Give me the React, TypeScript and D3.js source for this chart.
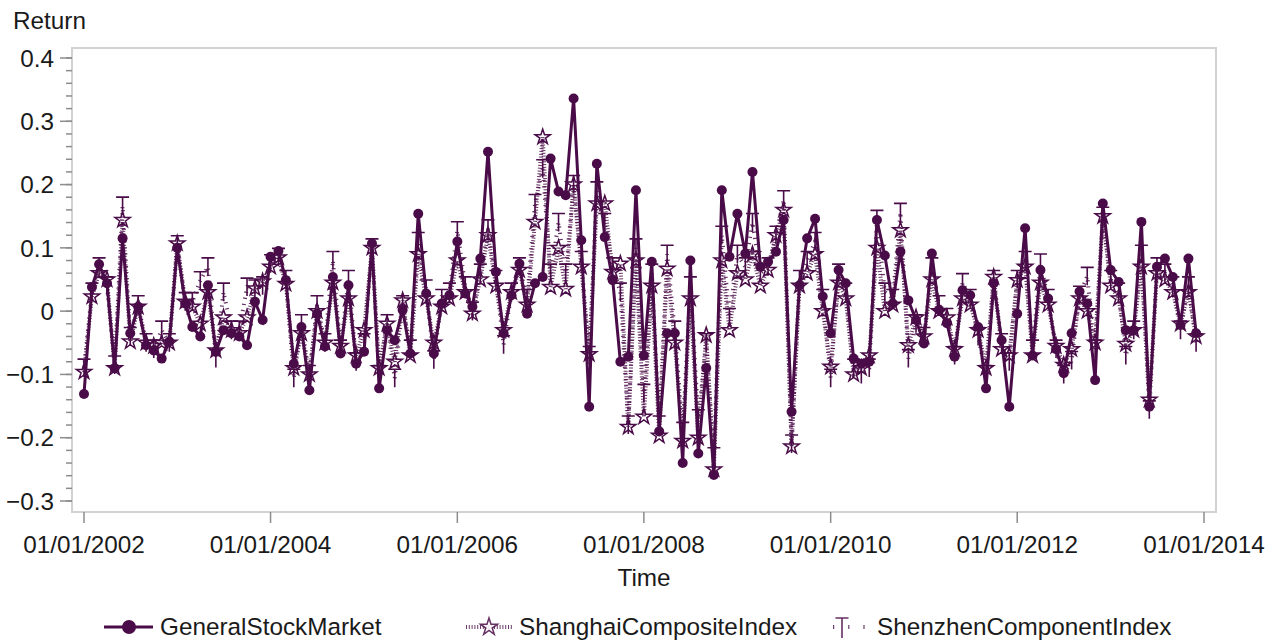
import React from "react";
import * as d3 from "d3";

// monthly returns, Jan 2002 .. Dec 2013
const generalStockMarket = [
  -0.131, 0.038, 0.074, 0.044, -0.09, 0.115, -0.035, 0.007, -0.054, -0.062, -0.075, -0.048,
  0.1, 0.012, -0.025, -0.04, 0.041, -0.064, -0.03, -0.035, -0.04, -0.054, 0.015, -0.014,
  0.086, 0.095, 0.049, -0.083, -0.025, -0.125, -0.004, -0.056, 0.054, -0.067, 0.041, -0.083,
  -0.064, 0.107, -0.122, -0.03, -0.046, 0.002, -0.067, 0.154, 0.028, -0.067, 0.012, 0.025,
  0.11, 0.028, 0.007, 0.083, 0.252, 0.062, -0.035, 0.025, 0.075, -0.004, 0.044, 0.054,
  0.241, 0.189, 0.183, 0.336, 0.112, -0.151, 0.233, 0.117, 0.049, -0.08, -0.072, 0.191,
  -0.07, 0.078, -0.19, -0.035, -0.035, -0.24, 0.08, -0.225, -0.09, -0.259, 0.191, 0.086,
  0.154, 0.091, 0.22, 0.07, 0.078, 0.094, 0.144, -0.159, 0.041, 0.115, 0.146, 0.023,
  -0.035, 0.065, 0.044, -0.075, -0.083, -0.08, 0.144, 0.088, 0.012, 0.094, 0.017, -0.014,
  -0.051, 0.091, 0.002, -0.019, -0.072, 0.033, 0.025, -0.025, -0.122, 0.044, -0.046, -0.151,
  -0.004, 0.131, -0.07, 0.065, 0.02, -0.06, -0.098, -0.035, 0.031, 0.012, -0.109, 0.17,
  0.065, 0.046, -0.03, -0.03, 0.141, -0.151, 0.07, 0.083, 0.054, -0.022, 0.083, -0.035,
];

const shanghaiCompositeIndex = [
  -0.096, 0.023, 0.06, 0.05, -0.09, 0.144, -0.048, 0.007, -0.05, -0.055, -0.05, -0.05,
  0.107, 0.015, 0.007, -0.02, 0.03, -0.062, -0.01, -0.03, -0.035, -0.01, 0.036, 0.047,
  0.07, 0.085, 0.043, -0.09, -0.035, -0.1, 0.0, -0.05, 0.045, -0.055, 0.02, -0.07,
  -0.03, 0.1, -0.09, -0.02, -0.08, 0.017, -0.07, 0.09, 0.02, -0.05, 0.007, 0.02,
  0.08, 0.03, -0.004, 0.05, 0.12, 0.04, -0.03, 0.03, 0.065, 0.01, 0.141, 0.275,
  0.038, 0.1, 0.035, 0.2, 0.07, -0.068, 0.17, 0.17, 0.062, 0.075, -0.183, 0.08,
  -0.167, 0.04, -0.197, 0.067, -0.05, -0.205, 0.02, -0.2, -0.038, -0.25, 0.08, -0.03,
  0.06, 0.05, 0.09, 0.04, 0.065, 0.12, 0.16, -0.214, 0.04, 0.06, 0.09, 0.0,
  -0.088, 0.045, 0.02, -0.1, -0.09, -0.07, 0.1, 0.0, 0.01, 0.128, -0.054, -0.01,
  -0.04, 0.05, 0.0, -0.01, -0.06, 0.02, 0.01, -0.03, -0.09, 0.054, -0.06, -0.07,
  0.049, 0.07, -0.07, 0.045, 0.01, -0.055, -0.085, -0.06, 0.02, 0.0, -0.05, 0.15,
  0.04, 0.02, -0.052, -0.03, 0.07, -0.14, 0.06, 0.05, 0.03, -0.02, 0.03, -0.04,
];

const shenzhenComponentIndex = [
  -0.09, 0.03, 0.07, 0.04, -0.085, 0.166, -0.04, 0.01, -0.05, -0.06, -0.03, -0.05,
  0.105, 0.015, 0.015, 0.048, 0.07, -0.075, 0.03, -0.03, -0.03, 0.038, 0.035, 0.04,
  0.075, 0.085, 0.05, -0.106, -0.02, -0.1, 0.01, -0.05, 0.08, -0.06, 0.05, -0.08,
  -0.05, 0.1, -0.1, -0.02, -0.106, 0.01, -0.06, 0.11, 0.035, -0.077, 0.02, 0.03,
  0.127, 0.04, 0.0, 0.06, 0.13, 0.05, -0.053, 0.03, 0.07, 0.02, 0.17, 0.225,
  0.06, 0.14, 0.06, 0.2, 0.08, -0.07, 0.19, 0.14, 0.07, 0.03, -0.18, 0.1,
  -0.13, 0.06, -0.18, 0.09, -0.03, -0.19, 0.04, -0.17, -0.05, -0.23, 0.12, -0.01,
  0.09, 0.07, 0.14, 0.06, 0.07, 0.12, 0.176, -0.21, 0.05, 0.08, 0.11, 0.02,
  -0.106, 0.06, 0.03, -0.09, -0.1, -0.09, 0.145, 0.03, 0.02, 0.156, -0.075, -0.02,
  -0.04, 0.07, 0.01, -0.01, -0.07, 0.045, 0.02, -0.04, -0.1, 0.05, -0.05, -0.08,
  0.05, 0.08, -0.06, 0.076, 0.02, -0.06, -0.1, -0.078, 0.025, 0.055, -0.06, 0.15,
  0.05, 0.03, -0.07, -0.03, 0.09, -0.156, 0.07, 0.06, 0.04, -0.03, 0.04, -0.05,
];

const seriesNames = ["GeneralStockMarket", "ShanghaiCompositeIndex", "ShenzhenComponentIndex"];
const yTickValues = [-0.3, -0.2, -0.1, 0, 0.1, 0.2, 0.3, 0.4];
const xTickYears = [2002, 2004, 2006, 2008, 2010, 2012, 2014];

const W = 1276;
const H = 641;
const frame = { left: 72, right: 1216, top: 48, bottom: 512 };
const ink = "#4a0c48";
const textColor = "#1a1a1a";
const font = "'Liberation Sans', Arial, sans-serif";
const fs = 24.3;

const months = generalStockMarket.map((_, i) => new Date(2002, i, 1));

export default function App() {
  const x = d3.scaleTime()
    .domain([new Date(2002, 0, 1), new Date(2014, 0, 1)])
    .range([84, 1204]);
  const y = d3.scaleLinear().domain([-0.3, 0.4]).range([501, 58]);

  const line = d3.line<number>()
    .x((_, i) => x(months[i]))
    .y(d => y(d));

  const star = d3.symbol(d3.symbolStar, 72)();
  const legendStar = d3.symbol(d3.symbolStar, 90)();
  const tack = (cx: number, cy: number, w = 13, h = 9) =>
    `M${cx - w / 2},${cy - h}H${cx + w / 2}M${cx},${cy - h}V${cy + h}`;

  const minorTicks = d3.range(0, 36).map(k => -0.3 + k * 0.02);
  const fmt = (d: number) => (Math.abs(d) < 1e-9 ? "0" : d3.format(".1f")(d));
  const ly = 627;

  return (
    <svg width={W} height={H} style={{ position: "absolute", left: 0, top: 0, background: "#fff" }}
      fontFamily={font}>
      <rect x={0} y={0} width={W} height={H} fill="#fff" />
      {/* frame */}
      <rect x={frame.left} y={frame.top} width={frame.right - frame.left} height={frame.bottom - frame.top}
        fill="none" stroke="#d2d2d2" strokeWidth={2} />

      {/* y axis */}
      <text x={13} y={29} fontSize={fs} fill={textColor}>Return</text>
      {minorTicks.map((t, k) => (
        <line key={"m" + k} x1={66} x2={frame.left} y1={y(t)} y2={y(t)} stroke="#8c8c8c" strokeWidth={1.5} />
      ))}
      {yTickValues.map(t => (
        <g key={t}>
          <line x1={60} x2={frame.left} y1={y(t)} y2={y(t)} stroke="#8c8c8c" strokeWidth={1.5} />
          <text x={54} y={y(t)} dy="0.36em" textAnchor="end" fontSize={fs} fill={textColor}>{fmt(t)}</text>
        </g>
      ))}

      {/* x axis */}
      {xTickYears.map(yr => {
        const px = x(new Date(yr, 0, 1));
        return (
          <g key={yr}>
            <line x1={px} x2={px} y1={frame.bottom} y2={frame.bottom + 11} stroke="#8c8c8c" strokeWidth={1.5} />
            <text x={px} y={553} textAnchor="middle" fontSize={fs} fill={textColor}>{`01/01/${yr}`}</text>
          </g>
        );
      })}
      <text x={(frame.left + frame.right) / 2} y={586} textAnchor="middle" fontSize={fs} fill={textColor}>Time</text>

      {/* Shenzhen: dashed line + tack markers */}
      <path d={line(shenzhenComponentIndex) || ""} fill="none" stroke={ink} strokeWidth={4}
        strokeDasharray="1.2,5" opacity={0.85} />
      {shenzhenComponentIndex.map((v, i) => (
        <path key={"z" + i} d={tack(x(months[i]), y(v))} fill="none" stroke={ink} strokeWidth={1.6} />
      ))}

      {/* Shanghai: dotted line + open stars */}
      <path d={line(shanghaiCompositeIndex) || ""} fill="none" stroke={ink} strokeWidth={4}
        strokeDasharray="1,1.8" opacity={0.85} />
      {shanghaiCompositeIndex.map((v, i) => (
        <path key={"s" + i} d={star} transform={`translate(${x(months[i])},${y(v)})`}
          fill="none" stroke={ink} strokeWidth={1.5} />
      ))}

      {/* General: solid line + filled circles */}
      <path d={line(generalStockMarket) || ""} fill="none" stroke={ink} strokeWidth={3} />
      {generalStockMarket.map((v, i) => (
        <circle key={"g" + i} cx={x(months[i])} cy={y(v)} r={5} fill={ink} />
      ))}

      {/* legend */}
      <line x1={104} x2={153} y1={ly} y2={ly} stroke={ink} strokeWidth={3} />
      <circle cx={129} cy={ly} r={7} fill={ink} />
      <text x={160} y={ly + 8} fontSize={fs} fill={textColor}>{seriesNames[0]}</text>

      <line x1={466} x2={512} y1={ly} y2={ly} stroke={ink} strokeWidth={4} strokeDasharray="1,1.8" opacity={0.8} />
      <path d={legendStar} transform={`translate(489,${ly})`} fill="#fff" stroke={ink} strokeWidth={1.5} opacity={0.85} />
      <text x={519} y={ly + 8} fontSize={fs} fill={textColor}>{seriesNames[1]}</text>

      <line x1={832} x2={872} y1={ly} y2={ly} stroke={ink} strokeWidth={4} strokeDasharray="1.2,14" strokeDashoffset={-1} opacity={0.8} />
      <path d={tack(842, ly + 1, 13, 10)} fill="none" stroke={ink} strokeWidth={1.6} opacity={0.85} />
      <text x={877} y={ly + 8} fontSize={fs} fill={textColor}>{seriesNames[2]}</text>
    </svg>
  );
}
